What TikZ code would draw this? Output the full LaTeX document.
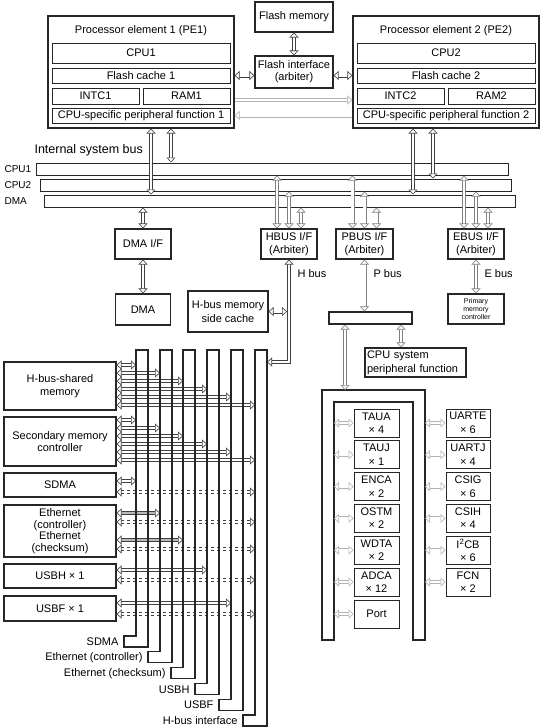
\documentclass[tikz,border=0pt]{standalone}
\usepackage{fontspec}
\setmainfont{Liberation Sans}
\usetikzlibrary{arrows.meta}
\tikzset{
  hd/.tip={Triangle[fill=white,length=5pt,width=9pt]},
  sz/.style 2 args={minimum width=#1pt, minimum height=#2pt},
  box/.style={draw=black!85, line width=1.1pt, fill=white, inner sep=0pt, align=center},
  ibox/.style={box, line width=1pt},
  harrow/.style={draw=black!75, line width=0.6pt, double=white, double distance=2.8pt, hd-hd},
  garrow/.style={harrow, draw=black!50},
  earrow/.style={harrow, draw=black!75, double=gray!55},
  bar/.style={draw=black!85, line width=1.1pt},
}
\begin{document}
\begin{tikzpicture}[x=1pt,y=-1pt,font=\fontsize{11}{12.5}\selectfont]
\useasboundingbox (0,0) rectangle (542,728);

% processor elements
\node[box, sz={186}{112}] (pe1) at (141,72) {};
\node (pe1t) at (141,31) {Processor element 1 (PE1)};
\node[ibox, sz={178}{20}] (cpu1) at (141,53) {CPU1};
\node[ibox, sz={178}{15}] (fc1) at (141,75.5) {Flash cache 1};
\node[ibox, sz={87}{16}] (intc1) at (95.5,96) {INTC1};
\node[ibox, sz={87}{16}] (ram1) at (186.5,96) {RAM1};
\node[ibox, sz={178}{15}] (cps1) at (141,115.5) {CPU-specific peripheral function 1};

\node[box, sz={186}{112}] (pe2) at (446,72) {};
\node (pe2t) at (446,31) {Processor element 2 (PE2)};
\node[ibox, sz={178}{20}] (cpu2) at (446,53) {CPU2};
\node[ibox, sz={178}{15}] (fc2) at (446,75.5) {Flash cache 2};
\node[ibox, sz={87}{16}] (intc2) at (400.5,96) {INTC2};
\node[ibox, sz={87}{16}] (ram2) at (491.5,96) {RAM2};
\node[ibox, sz={178}{15}] (cps2) at (446,115.5) {CPU-specific peripheral function 2};

% flash
\node[box, sz={78}{30}] (fmem) at (294,17) {Flash memory};
\node[box, sz={78}{32}, font=\fontsize{11}{12}\selectfont] (fif) at (294,72) {Flash interface\\(arbiter)};
\draw[harrow] (fmem) -- (fif);
\draw[harrow] (fc1.east -| pe1.east) -- (fif.west |- fc1.east);
\draw[harrow] (fif.east |- fc2.west) -- (fc2.west -| pe2.west);
\draw[garrow, draw=gray!60, -hd] (pe1.east |- 0,100) -- (pe2.west |- 0,100);
\draw[garrow, draw=gray!60, -hd] (pe2.west |- cps2.west) -- (pe1.east |- cps1.east);

% internal system bus
\node[anchor=west, font=\fontsize{12.5}{14}\selectfont] (isb) at (31,150) {Internal system bus};
\node[ibox, sz={472}{12}] (bcpu1) at (272,169) {};
\node[ibox, sz={471}{12}] (bcpu2) at (275.5,185) {};
\node[ibox, sz={471}{12}] (bdma) at (279.5,201) {};
\node[anchor=west, font=\fontsize{10}{12}\selectfont] (lcpu1) at (1,169) {CPU1};
\node[anchor=west, font=\fontsize{10}{12}\selectfont] (lcpu2) at (1,185) {CPU2};
\node[anchor=west, font=\fontsize{10}{12}\selectfont] (ldma) at (1,201) {DMA};
\draw[harrow] (pe1.south -| 151,0) -- (bdma.north -| 151,0);
\draw[harrow] (pe1.south -| 171,0) -- (bcpu1.north -| 171,0);
\draw[harrow] (pe2.south -| 413,0) -- (bdma.north -| 413,0);
\draw[harrow] (pe2.south -| 433,0) -- (bcpu2.north -| 433,0);

% bus interfaces
\node[box, sz={56}{30}] (dmaif) at (143,244) {DMA I/F};
\begin{scope}[font=\fontsize{11}{13}\selectfont]
\node[box, sz={56}{30}] (hbusif) at (289,244) {HBUS I/F\\(Arbiter)};
\node[box, sz={57}{30}] (pbusif) at (364.5,244) {PBUS I/F\\(Arbiter)};
\node[box, sz={56}{30}] (ebusif) at (476,244) {EBUS I/F\\(Arbiter)};
\end{scope}
\foreach \i in {hbusif,pbusif,ebusif} {
  \draw[garrow] ([xshift=-12pt]\i.north |- bcpu1.south) -- ([xshift=-12pt]\i.north);
  \draw[garrow] (\i.north |- bcpu2.south) -- (\i.north);
  \draw[garrow] ([xshift=12pt]\i.north |- bdma.south) -- ([xshift=12pt]\i.north);
}
\draw[harrow] (bdma.south -| dmaif.north) -- (dmaif.north);
\node[box, sz={55}{31}] (dma) at (143,309.5) {DMA};
\draw[harrow] (dmaif) -- (dma);

% H bus
\node[box, sz={80}{41}, font=\fontsize{11}{14}\selectfont] (hcache) at (228,311.5) {H-bus memory\\side cache};
\coordinate (hin) at (267,362);
\draw[harrow] (hbusif.south) |- (hin);
\draw[harrow, shorten >=2pt] (hcache.east) -- (hcache.east -| hbusif.south);
\node[anchor=west] (lh) at (294,274) {H bus};

% P bus and E bus
\node[box, sz={83}{12}] (pbar) at (370.5,318) {};
\draw[garrow] (pbusif.south) -- (pbusif.south |- pbar.north);
\node[anchor=west] (lp) at (370,274) {P bus};
\node[box, sz={101}{29}, align=left, text width=97pt, font=\fontsize{11}{14}\selectfont] (cpusys) at (415.5,362.5) {CPU system\\peripheral function};
\draw[garrow] (pbar.south -| 401,0) -- (cpusys.north -| 401,0);
\node[box, sz={56}{30}, font=\fontsize{7}{7.6}\selectfont] (pmc) at (476,309) {Primary\\memory\\controller};
\draw[garrow] (ebusif.south) -- (pmc.north);
\node[anchor=west] (le) at (481,274) {E bus};

% peripheral ring
\draw[box] (322,640) -- (322,390) -- (425,390) -- (425,640) -- (413,640) -- (413,402) -- (334,402) -- (334,640) -- cycle;
\coordinate (rin) at (334,402);
\coordinate (rout) at (425,390);
\coordinate (rtop) at (345,390);
\draw[garrow] (pbar.south -| rtop) -- (rtop);
\begin{scope}[font=\fontsize{11}{13.5}\selectfont]
\foreach \n/\a/\b [count=\k] in {taua/TAUA/4, tauj/TAUJ/1, enca/ENCA/2, ostm/OSTM/2, wdta/WDTA/2, adca/ADCA/12} {
  \node[ibox, sz={45}{28}] (\n) at (376.5,391.2+31.8*\k) {\a\\× \b};
  \draw[garrow, draw=gray!60] (rin |- \n.west) -- (\n.west);
}
\node[ibox, sz={45}{28}] (port) at (376.5,614) {Port};
\draw[garrow, draw=gray!60] (rin |- port.west) -- (port.west);
\foreach \n/\a/\b [count=\k] in {uarte/UARTE/6, uartj/UARTJ/4, csig/CSIG/6, csih/CSIH/4, iicb/{I\textsuperscript{2}CB}/6, fcn/FCN/2} {
  \node[ibox, sz={44}{28}] (\n) at (468,391.2+31.8*\k) {\a\\× \b};
  \draw[garrow, draw=gray!60] (rout |- \n.west) -- (\n.west);
}
\end{scope}

% H-bus masters and slaves
\node[box, sz={112}{48}] (hsm) at (60,386) {H-bus-shared\\memory};
\node[box, sz={112}{49}] (smc) at (60,441.5) {Secondary memory\\controller};
\node[box, sz={112}{24}] (sdma) at (60,485) {SDMA};
\node[box, sz={112}{52}, font=\fontsize{11}{11.5}\selectfont] (eth) at (60,531) {Ethernet\\(controller)\\Ethernet\\(checksum)};
\node[box, sz={112}{24}] (usbh) at (60,576) {USBH × 1};
\node[box, sz={112}{25}] (usbf) at (60,608.5) {USBF × 1};
\foreach \x [count=\k] in {136,160,183,207,231,255}
  \coordinate (bar\k) at (\x,350);
\foreach \k in {1,...,6} {
  \pgfmathsetmacro\ya{357+8*\k}
  \pgfmathsetmacro\yb{412+8*\k}
  \draw[harrow] (hsm.east |- 0,\ya) -- (bar\k |- 0,\ya);
  \draw[harrow] (smc.east |- 0,\yb) -- (bar\k |- 0,\yb);
}
\draw[harrow] (sdma.east |- 0,481) -- (bar1 |- 0,481);
\draw[harrow, dashed] (sdma.east |- 0,492) -- (bar6 |- 0,492);
\draw[earrow] (eth.east |- 0,513) -- (bar2 |- 0,513);
\draw[harrow, dashed] (eth.east |- 0,522) -- (bar6 |- 0,522);
\draw[earrow] (eth.east |- 0,540) -- (bar3 |- 0,540);
\draw[harrow, dashed] (eth.east |- 0,549) -- (bar6 |- 0,549);
\draw[harrow] (usbh.east |- 0,570) -- (bar4 |- 0,570);
\draw[harrow, dashed] (usbh.east |- 0,580) -- (bar6 |- 0,580);
\draw[harrow] (usbf.east |- 0,603) -- (bar5 |- 0,603);
\draw[harrow, dashed] (usbf.east |- 0,614) -- (bar6 |- 0,614);
\foreach \x/\t [count=\k] in {136/SDMA, 160/Ethernet (controller), 183/Ethernet (checksum), 207/USBH, 231/USBF, 255/H-bus interface} {
  \pgfmathsetmacro\yb{636+15.8*(\k-1)}
  \draw[bar] (\x+12,350) -- (\x,350) -- (\x,\yb) -- (\x-12,\yb) -- (\x-12,\yb+11) -- (\x+12,\yb+11) -- cycle;
  \node[anchor=east] (lab\k) at (\x-14,\yb+6) {\t};
}
\end{tikzpicture}
\end{document}
